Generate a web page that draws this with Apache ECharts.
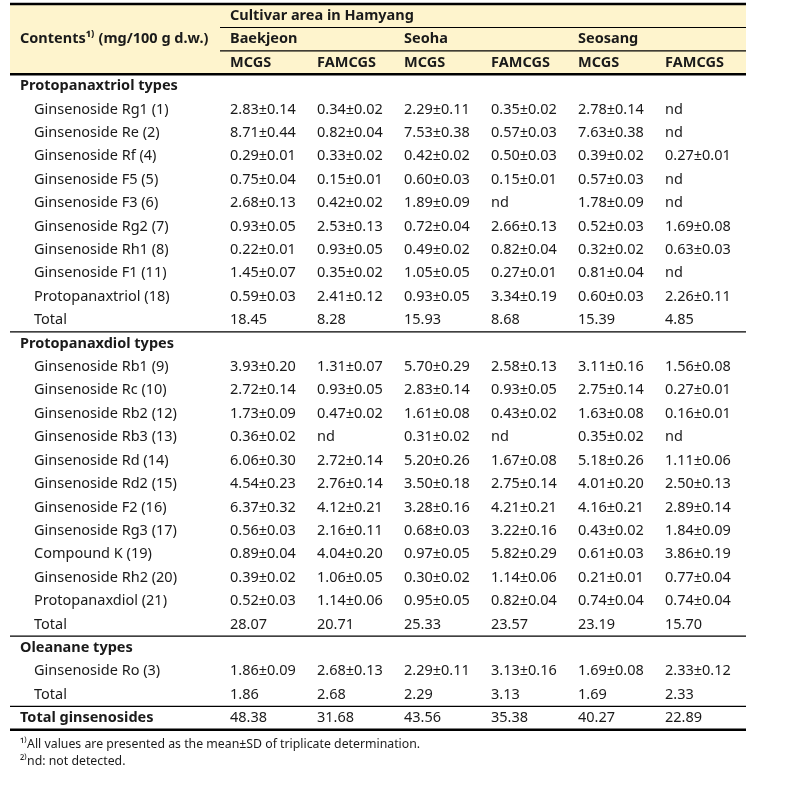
<!DOCTYPE html>
<html><head><meta charset="utf-8">
<script src="https://cdn.jsdelivr.net/npm/echarts@6/dist/echarts.min.js"></script>
<style>html,body{margin:0;padding:0;background:#fff}#c{width:793px;height:810px}</style>
</head><body><div id="c"></div>
<script>
// ---- data ----
const titleArea = 'Cultivar area in Hamyang';
const areas = ['Baekjeon', 'Seoha', 'Seosang'];
const methods = ['MCGS', 'FAMCGS'];
const contentsHeader = 'Contents\u00B9\u207E (mg/100 g d.w.)';
const rowLabels = [
  'Protopanaxtriol types',
  'Ginsenoside Rg1 (1)', 'Ginsenoside Re (2)', 'Ginsenoside Rf (4)', 'Ginsenoside F5 (5)',
  'Ginsenoside F3 (6)', 'Ginsenoside Rg2 (7)', 'Ginsenoside Rh1 (8)', 'Ginsenoside F1 (11)',
  'Protopanaxtriol (18)', 'Total',
  'Protopanaxdiol types',
  'Ginsenoside Rb1 (9)', 'Ginsenoside Rc (10)', 'Ginsenoside Rb2 (12)', 'Ginsenoside Rb3 (13)',
  'Ginsenoside Rd (14)', 'Ginsenoside Rd2 (15)', 'Ginsenoside F2 (16)', 'Ginsenoside Rg3 (17)',
  'Compound K (19)', 'Ginsenoside Rh2 (20)', 'Protopanaxdiol (21)', 'Total',
  'Oleanane types',
  'Ginsenoside Ro (3)', 'Total',
  'Total ginsenosides'
];
const sectionRows = [0, 11, 24];
const grandTotalRow = 27;
const baekjeonMCGS = ['', '2.83±0.14','8.71±0.44','0.29±0.01','0.75±0.04','2.68±0.13','0.93±0.05','0.22±0.01','1.45±0.07','0.59±0.03','18.45',
  '', '3.93±0.20','2.72±0.14','1.73±0.09','0.36±0.02','6.06±0.30','4.54±0.23','6.37±0.32','0.56±0.03','0.89±0.04','0.39±0.02','0.52±0.03','28.07',
  '', '1.86±0.09','1.86', '48.38'];
const baekjeonFAMCGS = ['', '0.34±0.02','0.82±0.04','0.33±0.02','0.15±0.01','0.42±0.02','2.53±0.13','0.93±0.05','0.35±0.02','2.41±0.12','8.28',
  '', '1.31±0.07','0.93±0.05','0.47±0.02','nd','2.72±0.14','2.76±0.14','4.12±0.21','2.16±0.11','4.04±0.20','1.06±0.05','1.14±0.06','20.71',
  '', '2.68±0.13','2.68', '31.68'];
const seohaMCGS = ['', '2.29±0.11','7.53±0.38','0.42±0.02','0.60±0.03','1.89±0.09','0.72±0.04','0.49±0.02','1.05±0.05','0.93±0.05','15.93',
  '', '5.70±0.29','2.83±0.14','1.61±0.08','0.31±0.02','5.20±0.26','3.50±0.18','3.28±0.16','0.68±0.03','0.97±0.05','0.30±0.02','0.95±0.05','25.33',
  '', '2.29±0.11','2.29', '43.56'];
const seohaFAMCGS = ['', '0.35±0.02','0.57±0.03','0.50±0.03','0.15±0.01','nd','2.66±0.13','0.82±0.04','0.27±0.01','3.34±0.19','8.68',
  '', '2.58±0.13','0.93±0.05','0.43±0.02','nd','1.67±0.08','2.75±0.14','4.21±0.21','3.22±0.16','5.82±0.29','1.14±0.06','0.82±0.04','23.57',
  '', '3.13±0.16','3.13', '35.38'];
const seosangMCGS = ['', '2.78±0.14','7.63±0.38','0.39±0.02','0.57±0.03','1.78±0.09','0.52±0.03','0.32±0.02','0.81±0.04','0.60±0.03','15.39',
  '', '3.11±0.16','2.75±0.14','1.63±0.08','0.35±0.02','5.18±0.26','4.01±0.20','4.16±0.21','0.43±0.02','0.61±0.03','0.21±0.01','0.74±0.04','23.19',
  '', '1.69±0.08','1.69', '40.27'];
const seosangFAMCGS = ['', 'nd','nd','0.27±0.01','nd','nd','1.69±0.08','0.63±0.03','nd','2.26±0.11','4.85',
  '', '1.56±0.08','0.27±0.01','0.16±0.01','nd','1.11±0.06','2.50±0.13','2.89±0.14','1.84±0.09','3.86±0.19','0.77±0.04','0.74±0.04','15.70',
  '', '2.33±0.12','2.33', '22.89'];
const footnotes = ['\u00B9\u207EAll values are presented as the mean±SD of triplicate determination.',
                   '\u00B2\u207End: not detected.'];

// ---- layout (code only) ----
const FONT = '"Noto Sans", sans-serif';
const TEXT = '#1a1a1a';
const X_LEFT = 10, X_RIGHT = 746, X_SUB = 220;
const X_SEC = 20, X_ITEM = 34, X_COL0 = 230, COL_W = 87;
const columns = [baekjeonMCGS, baekjeonFAMCGS, seohaMCGS, seohaFAMCGS, seosangMCGS, seosangFAMCGS];

// text cells: [x, row, text, kind]
const cells = [];
cells.push([X_COL0, -3, titleArea, 'h']);
areas.forEach((a, i) => cells.push([X_COL0 + i * 2 * COL_W, -2, a, 'h']));
areas.forEach((a, i) => methods.forEach((m, j) => cells.push([X_COL0 + (i * 2 + j) * COL_W, -1, m, 'h'])));
cells.push([X_SEC, -2, contentsHeader, 'h']);
rowLabels.forEach((lab, r) => {
  const bold = sectionRows.includes(r) || r === grandTotalRow;
  cells.push([bold ? X_SEC : X_ITEM, r, lab, bold ? 'h' : 'n']);
  columns.forEach((col, c) => { if (col[r]) cells.push([X_COL0 + c * COL_W, r, col[r], 'n']); });
});
cells.push([X_SEC, 28.12, footnotes[0], 'f']);
cells.push([X_SEC, 28.85, footnotes[1], 'f']);

// rules: [x0, x1, rowPos, width]
const rules = [
  [X_LEFT, X_RIGHT, -3.5, 2.5], [X_SUB, X_RIGHT, -2.5, 1.2], [X_SUB, X_RIGHT, -1.5, 1.2],
  [X_LEFT, X_RIGHT, -0.5, 2.5], [X_LEFT, X_RIGHT, 10.5, 1.2], [X_LEFT, X_RIGHT, 23.5, 1.2],
  [X_LEFT, X_RIGHT, 26.5, 1.2], [X_LEFT, X_RIGHT, 27.5, 2.5]
];

const ROW0_PX = 86, ROW_H = 23.41;
const chart = echarts.init(document.getElementById('c'), null, {renderer: 'canvas'});
chart.setOption({
  animation: false,
  grid: {left: 0, right: 0, top: 0, bottom: 0},
  xAxis: {type: 'value', min: 0, max: 793, show: false},
  yAxis: {type: 'value', inverse: true, min: -ROW0_PX / ROW_H, max: (810 - ROW0_PX) / ROW_H, show: false},
  series: [
    {
      type: 'custom', silent: true, data: [[X_LEFT, X_RIGHT, -3.5, -0.5]],
      renderItem: (p, api) => {
        const a = api.coord([api.value(0), api.value(2)]);
        const b = api.coord([api.value(1), api.value(3)]);
        return {type: 'rect', shape: {x: a[0], y: a[1], width: b[0] - a[0], height: b[1] - a[1]}, style: {fill: '#fef4cd'}};
      }
    },
    {
      type: 'custom', silent: true, data: rules,
      renderItem: (p, api) => {
        const a = api.coord([api.value(0), api.value(2)]);
        const b = api.coord([api.value(1), api.value(2)]);
        return {type: 'line', shape: {x1: a[0], y1: a[1], x2: b[0], y2: b[1]}, style: {stroke: '#000', lineWidth: api.value(3)}};
      }
    },
    {
      type: 'custom', silent: true, data: cells,
      dimensions: ['x', 'row', 'text', 'kind'],
      renderItem: (p, api) => {
        const d = cells[p.dataIndex];
        const pt = api.coord([d[0], d[1]]);
        const font = d[3] === 'h' ? 'bold 14.5px ' + FONT : (d[3] === 'f' ? '12.3px ' + FONT : '14.5px ' + FONT);
        return {type: 'text', x: pt[0], y: pt[1], style: {text: d[2], font: font, fill: TEXT, align: 'left', verticalAlign: 'middle'}};
      }
    }
  ]
});
</script></body></html>
